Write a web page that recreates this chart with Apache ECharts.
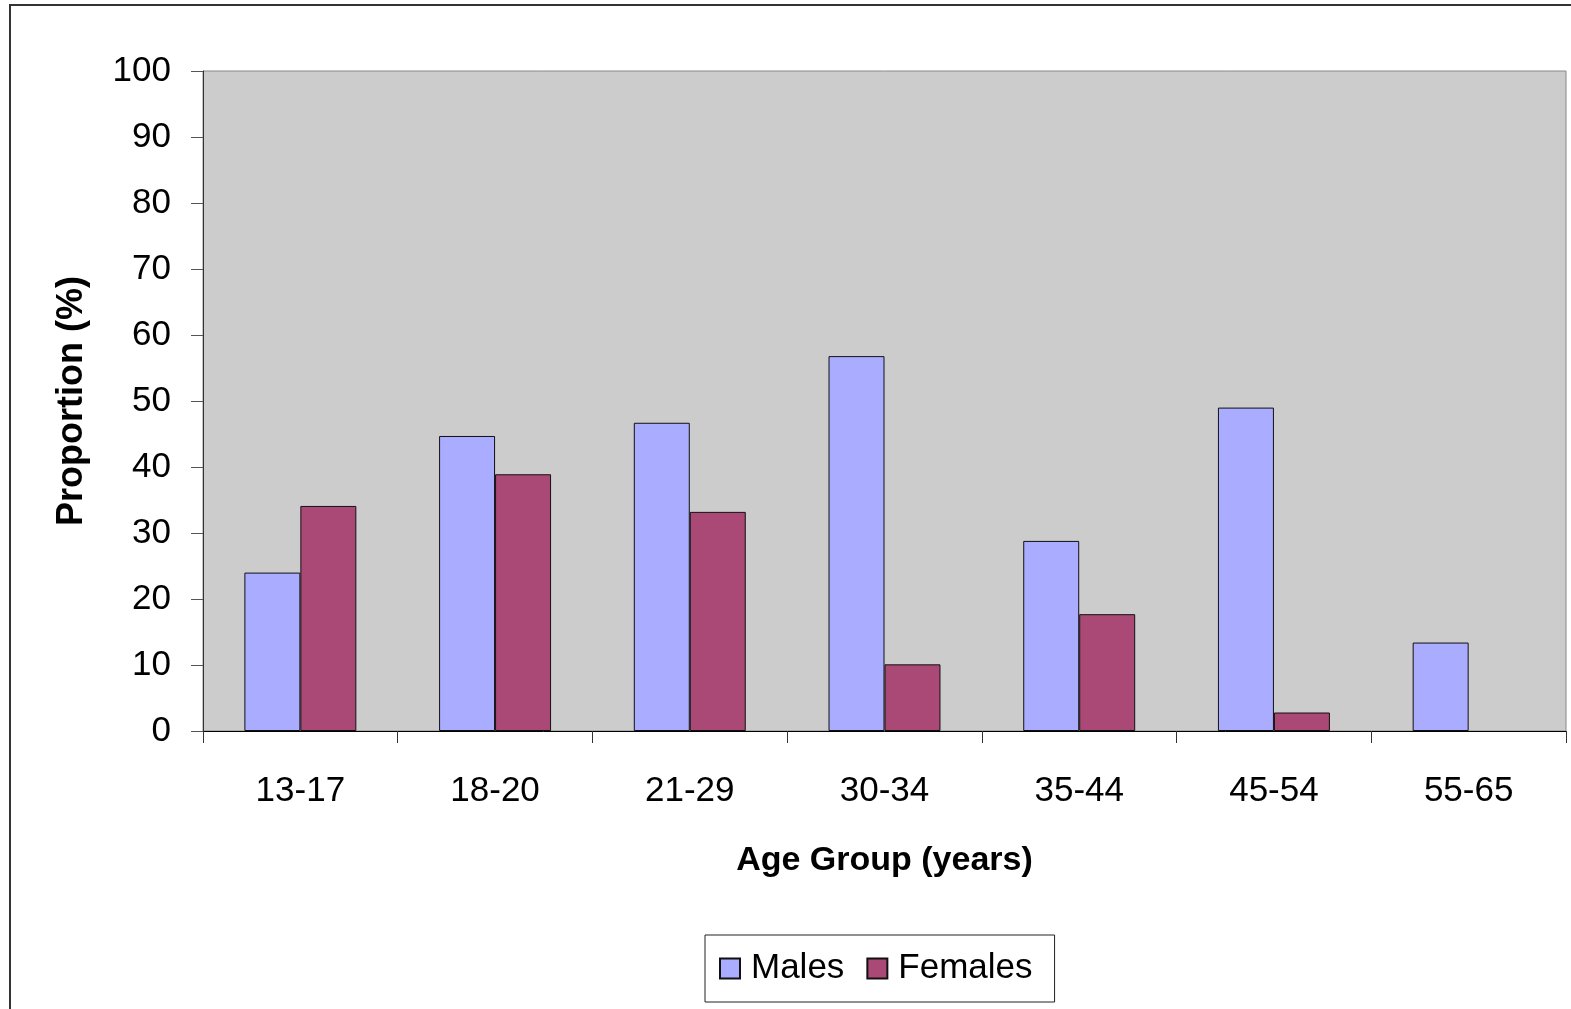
<!DOCTYPE html>
<html>
<head>
<meta charset="utf-8">
<script src="https://cdn.jsdelivr.net/npm/echarts@6/dist/echarts.min.js"></script>
<style>
  html, body { margin: 0; padding: 0; background: #fff; }
  #main { width: 1571px; height: 1009px; }
</style>
</head>
<body>
<div id="main"></div>
<script>
  // 年龄组与比例数据
  var ageGroups = ['13-17', '18-20', '21-29', '30-34', '35-44', '45-54', '55-65'];
  var males = [24.0, 44.7, 46.7, 56.8, 28.8, 49.0, 13.4];
  var females = [34.1, 38.9, 33.2, 10.1, 17.7, 2.8, 0];
  var yTicks = [0, 10, 20, 30, 40, 50, 60, 70, 80, 90, 100];

  var myChart = echarts.init(document.getElementById('main'));
  var font = 'Liberation Sans, Arial, sans-serif';

  var option = {
    animation: false,
    backgroundColor: '#fff',
    textStyle: { fontFamily: font },
    graphic: [{
      type: 'rect',
      shape: { x: 10, y: 5, width: 1570, height: 1010 },
      style: { fill: 'none', stroke: '#333', lineWidth: 2 }
    }],
    grid: {
      left: 203, top: 71, right: 5, bottom: 278,
      show: true,
      backgroundColor: '#cccccc',
      borderColor: '#888',
      borderWidth: 1
    },
    legend: {
      data: ['Males', 'Females'],
      left: 705, top: 935,
      icon: 'rect',
      itemWidth: 20, itemHeight: 20,
      itemGap: 22,
      padding: [16, 22, 16, 14],
      borderColor: '#222', borderWidth: 1,
      textStyle: { fontSize: 35, color: '#000', fontFamily: font, padding: [0, 0, 0, 6] }
    },
    xAxis: {
      type: 'category',
      data: ageGroups,
      name: 'Age Group (years)',
      nameLocation: 'middle',
      nameGap: 113,
      nameTextStyle: { fontSize: 34, fontWeight: 'bold', color: '#000', fontFamily: font },
      axisLine: { lineStyle: { color: '#000', width: 1 } },
      axisTick: { show: true, length: 12, lineStyle: { color: '#333' } },
      axisLabel: { fontSize: 35, color: '#000', margin: 43 },
      splitLine: { show: false }
    },
    yAxis: {
      type: 'value',
      min: 0, max: 100, interval: 10,
      name: 'Proportion (%)',
      nameLocation: 'middle',
      nameRotate: 90,
      nameGap: 113,
      nameTextStyle: { fontSize: 36, fontWeight: 'bold', color: '#000', fontFamily: font },
      axisLine: { show: true, lineStyle: { color: '#333', width: 1 } },
      axisTick: { show: true, length: 12, lineStyle: { color: '#555' } },
      axisLabel: {
        fontSize: 35, color: '#000', margin: 32,
        formatter: function (v) { return yTicks.indexOf(v) >= 0 ? String(v) : ''; }
      },
      splitLine: { show: false }
    },
    series: [{
      name: 'Males',
      type: 'bar',
      data: males,
      barGap: '0%',
      barCategoryGap: '42.5%',
      itemStyle: { color: '#a9acff', borderColor: '#111', borderWidth: 1 }
    }, {
      name: 'Females',
      type: 'bar',
      // 0 值不画柱子
      data: females.map(function (v) { return v === 0 ? '-' : v; }),
      itemStyle: { color: '#aa4876', borderColor: '#111', borderWidth: 1 }
    }]
  };
  myChart.setOption(option);
</script>
</body>
</html>
